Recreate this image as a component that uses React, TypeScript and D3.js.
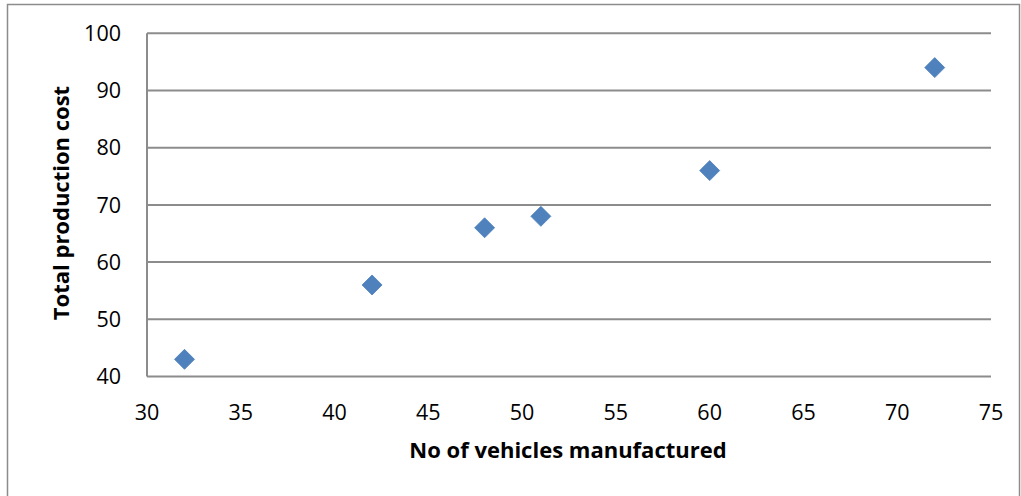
import React from "react";
import * as d3 from "d3";

const vehicles = [32, 42, 48, 51, 60, 72];
const costs = [43, 56, 66, 68, 76, 94];
const xTicks = [30, 35, 40, 45, 50, 55, 60, 65, 70, 75];
const yTicks = [40, 50, 60, 70, 80, 90, 100];
const xTitle = "No of vehicles manufactured";
const yTitle = "Total production cost";

export default function App() {
  const W = 1021, H = 496;
  const x = d3.scaleLinear().domain([30, 75]).range([147, 991]);
  const y = d3.scaleLinear().domain([40, 100]).range([376.5, 33.3]);
  const font = "Open Sans, sans-serif";
  return (
    <svg width={W} height={H} style={{ position: "absolute", left: 0, top: 0, background: "#fff" }}>
      <rect x={7.5} y={4.5} width={1012} height={500} fill="#fff" stroke="#8c8c8c" strokeWidth={1.5} />
      {yTicks.map((t) => (
        <g key={"y" + t}>
          <line x1={x(30)} x2={x(75)} y1={y(t)} y2={y(t)} stroke="#8c8c8c" strokeWidth={2} />
          <text x={121} y={y(t)} dy="0.36em" textAnchor="end" fontFamily={font} fontSize={21.5} fill="#000">{t}</text>
        </g>
      ))}
      <line x1={x(30)} x2={x(30)} y1={y(100)} y2={y(40)} stroke="#8c8c8c" strokeWidth={2} />
      {xTicks.map((t) => (
        <text key={"x" + t} x={x(t)} y={412} dy="0.36em" textAnchor="middle" fontFamily={font} fontSize={21.5} fill="#000">{t}</text>
      ))}
      {vehicles.map((v, i) => (
        <path key={"p" + i} d={d3.symbol().type(d3.symbolSquare).size(200)() as string}
          transform={`translate(${x(v)},${y(costs[i])}) rotate(45)`} fill="#4F81BD" stroke="#4A7EBB" strokeWidth={0.75} />
      ))}
      <text x={568} y={450} dy="0.36em" textAnchor="middle" fontFamily={font} fontSize={22} fontWeight="bold" fill="#000">{xTitle}</text>
      <text transform={`translate(61,${203}) rotate(-90)`} dy="0.36em" textAnchor="middle" fontFamily={font} fontSize={22} fontWeight="bold" fill="#000">{yTitle}</text>
    </svg>
  );
}
